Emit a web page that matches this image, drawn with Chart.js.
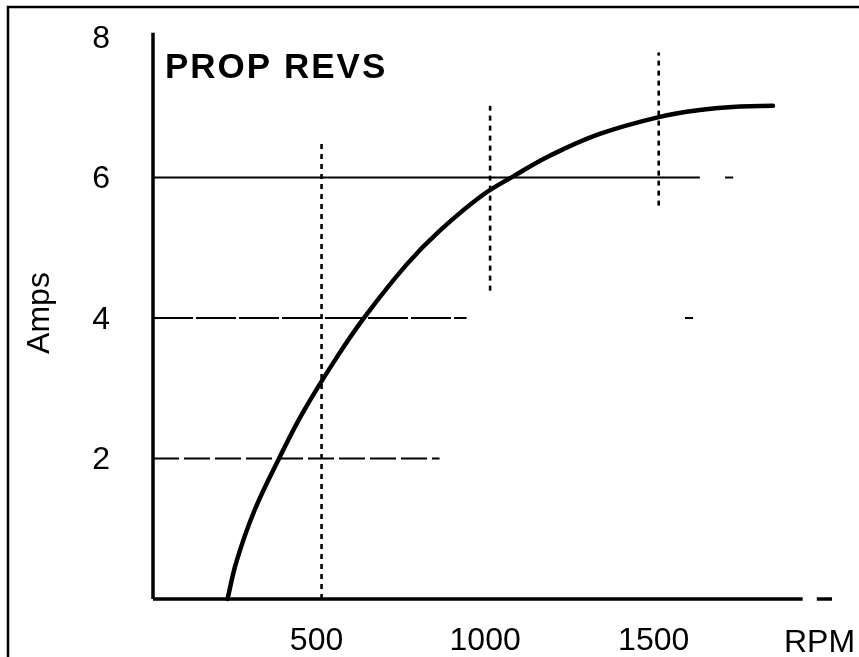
<!DOCTYPE html>
<html>
<head>
<meta charset="utf-8">
<title>Prop revs</title>
<script src="https://cdn.jsdelivr.net/npm/chart.js@4"></script>
<style>
  html, body { margin: 0; padding: 0; background: #fff; }
  #wrap { width: 859px; height: 657px; }
</style>
</head>
<body>
<div id="wrap"><canvas id="propChart" width="859" height="657"></canvas></div>
<script>
// curve
const rpm  = [221, 248, 301, 375, 444, 545, 627, 752, 850, 975, 1070, 1177, 1325, 1500, 1622, 1741, 1839];
const amps = [0, 0.54, 1.26, 2.01, 2.65, 3.44, 4.01, 4.76, 5.24, 5.74, 6.02, 6.31, 6.62, 6.86, 6.96, 7.01, 7.02];

// tick labels
const xTicks = [500, 1000, 1500];
const yTicks = [2, 4, 6, 8];

// partial grid lines drawn on the original (in data units)
const rowAt   = [6, 6, 4, 4, 2];
const rowFrom = [0, 1697, 0, 1578, 0];
const rowTo   = [1622, 1721, 930, 1602, 850];
const colAt   = [500, 1000, 1500];
const colFrom = [0, 4.39, 5.6];
const colTo   = [6.53, 7.02, 7.78];

// axis strokes (x axis has a break near the end)
const xAxisFrom = [0, 1969];
const xAxisTo   = [1927, 2014];
const yAxisTop  = 8.06;

const FONT = '"Liberation Sans", Arial, Helvetica, sans-serif';

const seg = (a, b, width, dash) => ({
    data: [a, b],
    borderColor: '#000',
    borderWidth: width,
    borderDash: dash,
    pointRadius: 0,
    fill: false,
    clip: false,
    order: 2
});

const datasets = [];
rowAt.forEach((y, i) => {
    datasets.push(seg({ x: rowFrom[i], y }, { x: rowTo[i], y }, 2, y === 2 ? [26, 5] : (y === 4 ? [40, 3] : [])));
});
colAt.forEach((x, i) => {
    datasets.push(seg({ x, y: colFrom[i] }, { x, y: colTo[i] }, 2.6, [5, 5]));
});
xAxisFrom.forEach((x, i) => {
    datasets.push(seg({ x, y: 0 }, { x: xAxisTo[i], y: 0 }, 3.5, []));
});
datasets.push(seg({ x: 0, y: 0 }, { x: 0, y: yAxisTop }, 3.5, []));

datasets.push({
    data: rpm.map((r, i) => ({ x: r, y: amps[i] })),
    borderColor: '#000',
    borderWidth: 4.5,
    borderCapStyle: 'round',
    tension: 0.4,
    pointRadius: 0,
    fill: false,
    clip: false,
    order: 1
});

// labels that sit inside / around the plot
const textPlugin = {
    id: 'scanText',
    afterDraw(chart) {
        const ctx = chart.ctx;
        ctx.save();
        ctx.fillStyle = '#000';
        ctx.strokeStyle = '#000';

        // frame of the scan (top and left edge)
        ctx.lineWidth = 2.5;
        ctx.beginPath();
        ctx.moveTo(8, 657);
        ctx.lineTo(8, 7);
        ctx.lineTo(859, 7);
        ctx.stroke();

        ctx.font = 'bold 35px ' + FONT;
        ctx.letterSpacing = '2px';
        ctx.textAlign = 'left';
        ctx.textBaseline = 'alphabetic';
        ctx.fillText('PROP REVS', 165, 78);

        ctx.letterSpacing = '0px';
        ctx.font = '32px ' + FONT;
        ctx.fillText('RPM', 784, 652);

        ctx.translate(49, 313);
        ctx.rotate(-Math.PI / 2);
        ctx.textAlign = 'center';
        ctx.fillText('Amps', 0, 0);
        ctx.restore();
    }
};

new Chart(document.getElementById('propChart'), {
    type: 'line',
    data: { datasets },
    options: {
        responsive: false,
        animation: false,
        devicePixelRatio: 1,
        layout: { padding: { top: 30, right: 25, left: 0, bottom: 0 } },
        plugins: {
            legend: { display: false },
            tooltip: { enabled: false }
        },
        scales: {
            x: {
                type: 'linear',
                min: 0,
                max: 2020,
                grid: { display: false, drawTicks: false },
                border: { display: false },
                afterBuildTicks: (s) => { s.ticks = xTicks.map(v => ({ value: v })); },
                afterFit: (s) => {
                    s.height = 58;
                    s.paddingLeft = 0;
                    s.paddingRight = 0;
                },
                ticks: {
                    color: '#000',
                    padding: 23,
                    labelOffset: -5,
                    maxRotation: 0,
                    callback: (v) => String(v),
                    font: { family: FONT, size: 32 }
                }
            },
            y: {
                type: 'linear',
                min: 0,
                max: 8.1,
                grid: { display: false, drawTicks: false },
                border: { display: false },
                afterBuildTicks: (s) => { s.ticks = yTicks.map(v => ({ value: v })); },
                afterFit: (s) => {
                    s.width = 153;
                    s.paddingTop = 0;
                    s.paddingBottom = 0;
                },
                ticks: {
                    color: '#000',
                    padding: 43,
                    labelOffset: 2,
                    callback: (v) => String(v),
                    font: { family: FONT, size: 32 }
                }
            }
        }
    },
    plugins: [textPlugin]
});
</script>
</body>
</html>
